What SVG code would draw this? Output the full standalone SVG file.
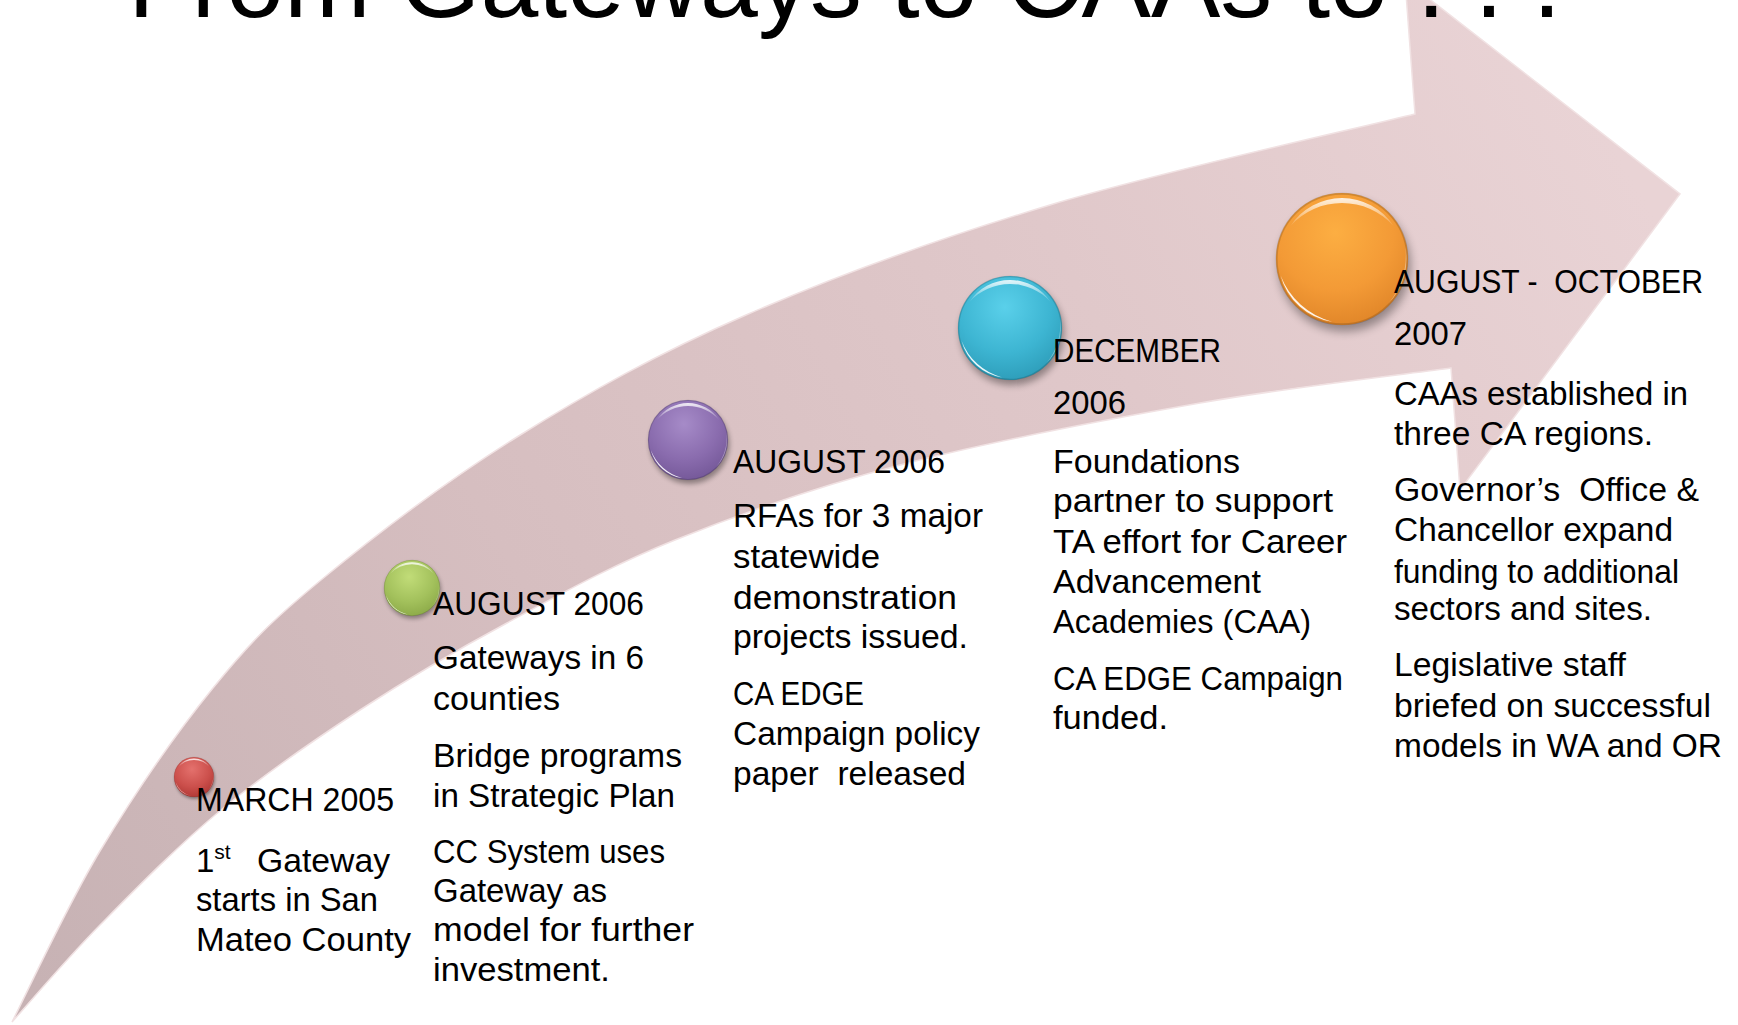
<svg xmlns="http://www.w3.org/2000/svg" xmlns:xlink="http://www.w3.org/1999/xlink" width="1738" height="1025" viewBox="0 0 1738 1025">
<style>
  text { font-family: "Liberation Sans", Arial, sans-serif; fill: #000; white-space: pre; }
  .t { font-size: 33px; }
  .title { font-size: 104px; }
  .sup { font-size: 21px; }
</style>
<defs>
  <linearGradient id="bandGrad" gradientUnits="userSpaceOnUse" x1="40" y1="1000" x2="1600" y2="120">
    <stop offset="0" stop-color="#c7b2b4"/>
    <stop offset="0.35" stop-color="#d6bec0"/>
    <stop offset="0.7" stop-color="#e0c8ca"/>
    <stop offset="1" stop-color="#e9d3d5"/>
  </linearGradient>
  <radialGradient id="gRed" cx="0.45" cy="0.3" r="0.8">
    <stop offset="0" stop-color="#e4716d"/><stop offset="0.55" stop-color="#cc504c"/><stop offset="1" stop-color="#a9322f"/>
  </radialGradient>
  <radialGradient id="gGreen" cx="0.45" cy="0.3" r="0.8">
    <stop offset="0" stop-color="#c1dc78"/><stop offset="0.55" stop-color="#a3c15c"/><stop offset="1" stop-color="#86a443"/>
  </radialGradient>
  <radialGradient id="gPurple" cx="0.45" cy="0.3" r="0.8">
    <stop offset="0" stop-color="#a68bc8"/><stop offset="0.55" stop-color="#8a6cae"/><stop offset="1" stop-color="#6e5292"/>
  </radialGradient>
  <radialGradient id="gCyan" cx="0.45" cy="0.3" r="0.8">
    <stop offset="0" stop-color="#5ad0ea"/><stop offset="0.55" stop-color="#3db5d2"/><stop offset="1" stop-color="#2996b2"/>
  </radialGradient>
  <radialGradient id="gOrange" cx="0.45" cy="0.3" r="0.8">
    <stop offset="0" stop-color="#fcae42"/><stop offset="0.55" stop-color="#f39a36"/><stop offset="1" stop-color="#db8025"/>
  </radialGradient>
  <linearGradient id="topHi" x1="0" y1="0" x2="0" y2="1">
    <stop offset="0" stop-color="#fff" stop-opacity="0.85"/>
    <stop offset="1" stop-color="#fff" stop-opacity="0.1"/>
  </linearGradient>
  <filter id="shadow" x="-50%" y="-50%" width="200%" height="200%">
    <feGaussianBlur stdDeviation="0.07"/>
  </filter>
  <g id="under">
    <circle cx="0.04" cy="0.1" r="1" fill="#000" opacity="0.35" filter="url(#shadow)"/>
  </g>
  <g id="gloss">
    <path d="M -0.78,-0.5 A 0.93 0.93 0 0 1 0.78,-0.5 A 1.05 1.05 0 0 0 -0.78,-0.5 Z" fill="url(#topHi)"/>
    <path d="M -0.93,0.25 A 0.96 0.96 0 0 0 -0.15,0.95 A 1.15 1.15 0 0 1 -0.93,0.25 Z" fill="#fff" opacity="0.9"/>
    <path d="M 0.96,-0.2 A 0.98 0.98 0 0 1 0.7,0.68 A 1.2 1.2 0 0 0 0.96,-0.2 Z" fill="#fff" opacity="0.35"/>
    <circle r="0.99" fill="none" stroke="#000" stroke-opacity="0.15" stroke-width="0.03"/>
  </g>
</defs>

<g id="arrow">
  <path d="M 12,1022 C 26.7,993.5 66.5,906.7 100,851 C 133.5,795.3 176.2,733.2 213,688 C 249.8,642.8 270.3,621.8 321,580 C 371.7,538.2 446.2,481.2 517,437 C 587.8,392.8 657.2,353.7 746,315 C 834.8,276.3 938.5,238.5 1050,205 C 1161.5,171.5 1354.2,129.2 1415,114 L 1405,-20 L 1680,194 L 1460,490 L 1451,368 C 1409.2,373.8 1291.8,386.8 1200,403 C 1108.2,419.2 987.5,442.2 900,465 C 812.5,487.8 740.5,513.7 675,540 C 609.5,566.3 559.5,594.7 507,623 C 454.5,651.3 407.7,678.8 360,710 C 312.3,741.2 264.3,774.2 221,810 C 177.7,845.8 134.8,889.7 100,925 C 65.2,960.3 26.7,1005.8 12,1022 Z" fill="url(#bandGrad)" stroke="#f1e2e3" stroke-width="1.5"/>
</g>

<g id="title">
  <text class="title" x="128" y="17">From Gateways to CAAs to . . .</text>
</g>

<g id="connectors"></g>

<g id="node-march-2005">
  <use xlink:href="#under" transform="translate(194,777) scale(20)"/>
  <circle cx="194" cy="777" r="20" fill="url(#gRed)"/>
  <use xlink:href="#gloss" transform="translate(194,777) scale(20)"/>
  <text class="t" x="196" y="811" textLength="198" lengthAdjust="spacingAndGlyphs">MARCH 2005</text>
  <text class="t" x="196" y="872">1<tspan class="sup" dy="-13">st</tspan></text>
  <text class="t" x="257" y="872" textLength="133" lengthAdjust="spacingAndGlyphs">Gateway</text>
  <text class="t" x="196" y="911" textLength="182" lengthAdjust="spacingAndGlyphs">starts in San</text>
  <text class="t" x="196" y="951" textLength="215" lengthAdjust="spacingAndGlyphs">Mateo County</text>
</g>

<g id="node-august-2006-a">
  <use xlink:href="#under" transform="translate(412,588) scale(28)"/>
  <circle cx="412" cy="588" r="28" fill="url(#gGreen)"/>
  <use xlink:href="#gloss" transform="translate(412,588) scale(28)"/>
  <text class="t" x="433" y="615" textLength="211" lengthAdjust="spacingAndGlyphs">AUGUST 2006</text>
  <text class="t" x="433" y="669" textLength="211" lengthAdjust="spacingAndGlyphs">Gateways in 6</text>
  <text class="t" x="433" y="710" textLength="127" lengthAdjust="spacingAndGlyphs">counties</text>
  <text class="t" x="433" y="767" textLength="249" lengthAdjust="spacingAndGlyphs">Bridge programs</text>
  <text class="t" x="433" y="807" textLength="242" lengthAdjust="spacingAndGlyphs">in Strategic Plan</text>
  <text class="t" x="433" y="863" textLength="232" lengthAdjust="spacingAndGlyphs">CC System uses</text>
  <text class="t" x="433" y="902" textLength="174" lengthAdjust="spacingAndGlyphs">Gateway as</text>
  <text class="t" x="433" y="941" textLength="261" lengthAdjust="spacingAndGlyphs">model for further</text>
  <text class="t" x="433" y="981" textLength="177" lengthAdjust="spacingAndGlyphs">investment.</text>
</g>

<g id="node-august-2006-b">
  <use xlink:href="#under" transform="translate(688,440) scale(40)"/>
  <circle cx="688" cy="440" r="40" fill="url(#gPurple)"/>
  <use xlink:href="#gloss" transform="translate(688,440) scale(40)"/>
  <text class="t" x="733" y="473" textLength="212" lengthAdjust="spacingAndGlyphs">AUGUST 2006</text>
  <text class="t" x="733" y="527" textLength="250" lengthAdjust="spacingAndGlyphs">RFAs for 3 major</text>
  <text class="t" x="733" y="568" textLength="147" lengthAdjust="spacingAndGlyphs">statewide</text>
  <text class="t" x="733" y="609" textLength="224" lengthAdjust="spacingAndGlyphs">demonstration</text>
  <text class="t" x="733" y="648" textLength="235" lengthAdjust="spacingAndGlyphs">projects issued.</text>
  <text class="t" x="733" y="705" textLength="131" lengthAdjust="spacingAndGlyphs">CA EDGE</text>
  <text class="t" x="733" y="745" textLength="247" lengthAdjust="spacingAndGlyphs">Campaign policy</text>
  <text class="t" x="733" y="785" textLength="233" lengthAdjust="spacingAndGlyphs">paper  released</text>
</g>

<g id="node-december-2006">
  <use xlink:href="#under" transform="translate(1010,328) scale(52)"/>
  <circle cx="1010" cy="328" r="52" fill="url(#gCyan)"/>
  <use xlink:href="#gloss" transform="translate(1010,328) scale(52)"/>
  <text class="t" x="1053" y="362" textLength="168" lengthAdjust="spacingAndGlyphs">DECEMBER</text>
  <text class="t" x="1053" y="414" textLength="73" lengthAdjust="spacingAndGlyphs">2006</text>
  <text class="t" x="1053" y="473" textLength="187" lengthAdjust="spacingAndGlyphs">Foundations</text>
  <text class="t" x="1053" y="512" textLength="280" lengthAdjust="spacingAndGlyphs">partner to support</text>
  <text class="t" x="1053" y="553" textLength="294" lengthAdjust="spacingAndGlyphs">TA effort for Career</text>
  <text class="t" x="1053" y="593" textLength="208" lengthAdjust="spacingAndGlyphs">Advancement</text>
  <text class="t" x="1053" y="633" textLength="258" lengthAdjust="spacingAndGlyphs">Academies (CAA)</text>
  <text class="t" x="1053" y="690" textLength="290" lengthAdjust="spacingAndGlyphs">CA EDGE Campaign</text>
  <text class="t" x="1053" y="729" textLength="115" lengthAdjust="spacingAndGlyphs">funded.</text>
</g>

<g id="node-aug-oct-2007">
  <use xlink:href="#under" transform="translate(1342,259) scale(66)"/>
  <circle cx="1342" cy="259" r="66" fill="url(#gOrange)"/>
  <use xlink:href="#gloss" transform="translate(1342,259) scale(66)"/>
  <text class="t" x="1394" y="293" textLength="309" lengthAdjust="spacingAndGlyphs">AUGUST -  OCTOBER</text>
  <text class="t" x="1394" y="345" textLength="73" lengthAdjust="spacingAndGlyphs">2007</text>
  <text class="t" x="1394" y="405" textLength="294" lengthAdjust="spacingAndGlyphs">CAAs established in</text>
  <text class="t" x="1394" y="445" textLength="259" lengthAdjust="spacingAndGlyphs">three CA regions.</text>
  <text class="t" x="1394" y="501" textLength="305" lengthAdjust="spacingAndGlyphs">Governor’s  Office &amp;</text>
  <text class="t" x="1394" y="541" textLength="279" lengthAdjust="spacingAndGlyphs">Chancellor expand</text>
  <text class="t" x="1394" y="583" textLength="285" lengthAdjust="spacingAndGlyphs">funding to additional</text>
  <text class="t" x="1394" y="620" textLength="258" lengthAdjust="spacingAndGlyphs">sectors and sites.</text>
  <text class="t" x="1394" y="676" textLength="232" lengthAdjust="spacingAndGlyphs">Legislative staff</text>
  <text class="t" x="1394" y="717" textLength="317" lengthAdjust="spacingAndGlyphs">briefed on successful</text>
  <text class="t" x="1394" y="757" textLength="328" lengthAdjust="spacingAndGlyphs">models in WA and OR</text>
</g>
</svg>
